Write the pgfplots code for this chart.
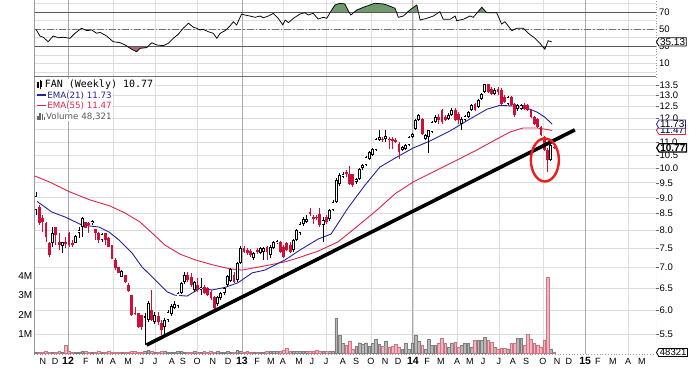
\documentclass[border=0pt]{standalone}
\usepackage{pgfplots}
\pgfplotsset{compat=1.18}
\usepackage{pgfplotstable}
\usetikzlibrary{shapes.symbols}
\usepackage{fontspec}
\setmainfont{Liberation Sans}
\newfontfamily\dejavu{DejaVu Sans}
\newfontfamily\dejamono{DejaVu Sans Mono}

\definecolor{candlered}{HTML}{CC1038}
\definecolor{emablue}{HTML}{22229E}
\definecolor{emared}{HTML}{DC2448}
\definecolor{rsigreen}{HTML}{6E9A6E}
\definecolor{rsired}{HTML}{A86A6A}
\definecolor{volgray}{HTML}{B8B8B8}
\definecolor{volgrayd}{HTML}{7E7E7E}
\definecolor{volpink}{HTML}{F0B6C0}
\definecolor{volpinkd}{HTML}{D07484}
\definecolor{gridlight}{HTML}{DDDDDD}
\definecolor{gridyear}{HTML}{AAAAAA}
\definecolor{framegray}{HTML}{999999}
\definecolor{circlered}{HTML}{EE1C1C}

% week index, open, high, low, close, volume (thousands)
\pgfplotstableread{
x o h l c v
0 8.61 9.19 8.46 9.06 80
5 7.65 8.10 7.54 7.93 60
8 7.57 7.68 7.38 7.68 70
12 7.65 7.87 7.65 7.85 70
13 7.93 8.10 7.79 8.02 80
14 8.10 8.40 7.82 8.37 120
17 8.22 8.31 8.16 8.28 70
20 7.73 7.93 7.68 7.90 60
26 6.77 6.94 6.77 6.92 50
33 5.84 5.94 5.30 5.88 120
34 5.80 6.21 5.76 6.16 150
36 5.76 5.97 5.71 5.90 80
39 5.65 5.84 5.49 5.80 100
40 5.80 6.01 5.76 5.97 60
41 5.92 6.14 5.88 6.10 80
42 6.05 6.21 6.03 6.14 70
43 6.10 6.41 6.05 6.39 90
44 6.39 6.65 6.36 6.63 110
45 6.65 6.89 6.60 6.82 80
48 6.46 6.68 6.41 6.65 90
50 6.46 6.75 6.34 6.53 70
55 6.14 6.32 6.10 6.30 110
56 6.27 6.41 6.23 6.39 70
57 6.39 6.53 6.34 6.51 80
58 6.58 6.82 6.53 6.80 90
59 6.68 6.99 6.65 6.97 60
61 6.70 7.15 6.65 7.12 140
62 7.12 7.57 7.10 7.51 120
66 7.25 7.41 7.20 7.38 60
68 7.38 7.54 7.35 7.51 70
69 7.41 7.54 7.20 7.51 60
71 7.33 7.59 7.25 7.54 120
72 7.51 7.71 7.48 7.68 110
73 7.65 7.73 7.62 7.71 90
78 7.46 7.76 7.41 7.73 100
79 7.73 8.04 7.71 8.02 110
80 7.93 8.25 7.87 8.19 120
81 8.19 8.40 8.13 8.34 120
82 8.25 8.46 8.22 8.34 110
87 8.16 8.40 7.68 8.31 90
89 8.34 8.64 8.28 8.61 90
90 8.61 8.93 8.58 8.86 120
91 8.86 9.66 8.83 9.59 1810
92 9.45 9.84 9.39 9.77 950
93 9.70 9.88 9.66 9.81 520
97 9.52 9.66 9.45 9.63 350
98 9.63 10.02 9.59 9.98 550
99 10.02 10.16 9.95 10.13 470
100 10.13 10.46 10.09 10.42 550
101 10.35 10.65 10.31 10.61 380
102 10.50 10.76 10.46 10.72 520
103 10.69 11.16 10.65 11.12 730
104 11.08 11.49 11.04 11.20 470
106 11.12 11.49 11.00 11.24 640
111 10.69 10.84 10.65 10.80 210
112 10.72 10.92 10.69 10.88 520
113 10.88 11.24 10.84 11.20 210
114 11.20 11.36 11.16 11.32 550
115 11.53 11.95 11.49 11.91 950
116 11.91 12.16 11.87 12.12 640
118 11.12 11.32 11.08 11.28 210
119 11.20 11.49 10.57 11.49 720
120 11.40 11.87 11.36 11.83 430
121 11.83 12.12 11.79 12.03 440
125 11.95 12.21 11.91 12.12 330
126 12.12 12.43 12.08 12.34 500
129 11.75 12.03 11.49 11.95 420
130 11.91 12.12 11.87 12.08 500
131 12.03 12.30 11.99 12.25 500
132 12.34 12.61 12.30 12.57 330
134 12.48 12.84 12.43 12.79 670
135 12.84 13.12 12.79 13.07 670
136 13.17 13.55 13.12 13.55 840
139 13.07 13.36 13.03 13.26 330
143 12.61 12.98 12.57 12.93 240
146 12.38 12.61 12.30 12.57 800
147 12.38 12.61 12.34 12.57 800
156 10.31 10.96 10.27 10.88 240
}\upc

\pgfplotstableread{
x o h l c v
1 8.71 8.77 8.16 8.22 70
2 8.37 8.46 7.96 8.25 60
3 8.22 8.25 7.68 7.82 90
4 7.65 7.68 7.28 7.33 70
6 8.10 8.10 7.59 7.87 80
7 7.68 7.93 7.46 7.59 100
9 7.68 7.82 7.51 7.62 430
10 7.93 7.96 7.54 7.59 90
11 7.65 7.73 7.54 7.59 60
15 8.25 8.25 8.07 8.07 90
16 8.22 8.25 7.93 8.16 60
18 8.04 8.04 7.73 7.93 80
19 7.93 7.96 7.65 7.73 100
21 7.93 7.93 7.59 7.73 70
22 7.79 7.82 7.54 7.54 90
23 7.59 7.59 7.23 7.23 80
24 7.20 7.25 6.94 6.99 60
25 7.02 7.02 6.87 6.87 70
27 6.82 6.82 6.63 6.65 60
28 6.58 6.63 6.41 6.44 80
29 6.34 6.34 5.88 5.90 110
30 5.94 6.08 5.90 5.92 90
31 5.94 5.94 5.63 5.65 70
32 5.90 5.90 5.59 5.65 80
35 6.01 6.46 5.78 5.80 110
37 5.88 5.97 5.69 5.76 70
38 5.74 5.80 5.49 5.59 90
46 6.82 6.89 6.65 6.70 70
47 6.77 6.87 6.53 6.58 60
49 6.58 6.75 6.41 6.46 80
51 6.53 6.58 6.36 6.39 100
52 6.51 6.53 6.32 6.34 60
53 6.41 6.46 6.23 6.27 90
54 6.30 6.32 6.03 6.05 80
60 6.82 6.89 6.63 6.65 70
63 7.51 7.57 7.38 7.41 80
64 7.46 7.51 7.33 7.38 90
65 7.43 7.48 7.28 7.33 70
67 7.46 7.51 7.35 7.41 60
70 7.54 7.57 7.20 7.41 120
74 7.68 7.71 7.38 7.41 120
75 7.54 7.59 7.25 7.28 150
76 7.65 7.68 7.43 7.46 260
77 7.59 7.68 7.38 7.41 90
83 8.55 8.67 8.43 8.49 120
84 8.40 8.46 8.19 8.34 120
85 8.40 8.46 8.31 8.37 170
86 8.49 8.67 8.10 8.16 120
88 8.40 8.46 8.19 8.25 100
94 9.88 9.95 9.70 9.81 400
95 9.81 10.09 9.42 9.45 640
96 9.81 9.81 9.36 9.42 210
105 11.12 11.20 11.00 11.08 380
107 11.12 11.20 10.72 11.08 340
108 11.12 11.20 10.72 11.04 380
109 11.08 11.16 10.96 11.00 470
110 10.92 11.00 10.35 10.61 340
117 11.95 11.99 11.28 11.32 430
122 12.03 12.16 11.75 11.91 500
123 12.34 12.38 11.75 11.83 780
124 12.03 12.12 11.87 11.91 500
127 12.34 12.43 11.87 11.91 580
128 12.16 12.25 11.75 11.91 330
133 12.61 12.66 12.30 12.34 670
137 13.55 13.55 13.12 13.17 670
138 13.31 13.40 13.03 13.07 580
140 13.31 13.40 13.03 13.17 240
141 13.26 13.36 12.57 12.61 290
142 12.93 13.03 12.66 12.70 290
144 12.93 12.98 12.52 12.57 500
145 12.61 12.66 12.03 12.12 500
148 12.57 12.66 12.34 12.38 420
149 12.57 12.61 12.30 12.34 1010
150 12.34 12.38 11.99 12.03 750
151 12.03 12.08 11.69 11.73 500
152 11.95 11.99 11.57 11.61 420
153 11.61 11.65 11.24 11.28 330
154 11.20 11.24 10.65 10.69 670
155 10.69 10.76 9.88 10.31 3930
157 10.80 10.84 10.72 10.77 48
}\downc

\pgfplotstableread{
x y
-0.3 8.93
4.8 8.55
8.8 8.40
13.9 8.16
19.1 8.10
22.1 7.96
25.2 7.73
29.1 7.38
32.1 7.02
36.1 6.70
39.7 6.42
42.1 6.34
45.8 6.32
49.7 6.50
53.3 6.46
57.3 6.52
61.2 6.63
65.5 6.87
69.4 6.94
75.5 7.20
80.0 7.46
85.5 7.76
89.4 7.90
94.5 8.67
99.7 9.42
104.2 10.05
108.8 10.38
114.2 10.76
119.4 11.04
125.5 11.45
131.5 11.95
136.7 12.38
140.6 12.55
144.5 12.52
148.8 12.43
151.8 12.25
154.2 12.03
156.4 11.73
}\emashort

\pgfplotstableread{
x y
-0.3 9.73
4.2 9.52
10.3 9.19
16.4 8.93
22.4 8.74
27.0 8.52
31.5 8.25
36.1 7.85
39.1 7.59
43.6 7.35
48.2 7.20
53.6 7.07
58.8 6.97
62.4 6.94
66.4 7.00
70.9 7.07
75.5 7.15
79.4 7.25
85.5 7.43
91.5 7.68
96.7 8.07
103.3 8.61
108.8 9.13
114.2 9.52
120.9 9.91
127.6 10.31
133.6 10.69
139.7 11.12
143.6 11.40
147.6 11.57
151.8 11.57
156.4 11.47
}\emalong

\pgfplotstableread{
x y
0 50
1.2 42.1
2.2 40.6
3.7 35.4
5.2 42.1
6.8 40.1
8.3 40.6
10.3 39.4
11.8 45.3
13.8 51.2
15.4 48.4
16.9 49.2
18.4 45.3
19.4 46.5
21.4 42.1
23.4 35.4
25.5 34.2
27.0 31.5
29.0 26.5
30.5 23.6
31.5 27.6
33.5 28.4
35.1 34.2
36.6 31.5
38.6 30.8
40.1 33.5
41.6 39.4
43.1 44.1
44.6 51.2
46.2 57.1
47.7 52.4
48.7 51.2
49.7 49.2
50.7 50.0
52.2 47.2
53.7 45.3
54.8 39.4
55.8 45.3
57.3 48.4
58.8 53.9
59.8 58.9
60.8 55.1
62.3 68.0
63.3 66.8
64.8 65.6
66.4 64.1
67.9 65.6
68.9 63.6
70.4 65.6
71.9 68.8
73.4 62.9
74.8 55.1
75.5 60.9
76.5 57.8
78.0 62.9
80.0 68.0
81.5 69.5
82.5 66.8
84.0 68.8
85.5 62.1
87.1 64.1
88.1 62.9
89.6 72.7
90.6 78.6
92.1 80.6
93.6 79.8
94.6 72.0
95.4 66.8
97.2 72.7
99.7 76.6
102.7 80.6
105.2 79.8
106.3 78.6
108.8 74.7
109.8 64.1
111.3 65.6
113.3 72.7
115.4 78.6
116.4 60.9
118.4 62.9
120.4 65.6
122.4 70.7
123.4 61.8
125.5 61.8
127.0 65.6
127.5 60.1
129.5 61.8
131.5 65.6
132.5 64.1
135.1 75.9
136.6 69.5
139.6 69.5
141.1 56.2
142.1 58.9
144.2 48.4
145.7 51.2
147.7 51.2
149.2 45.3
151.2 39.4
152.7 33.5
154.2 26.5
155.2 36.6
156.3 35.13
}\rsidata

\tikzset{
  valbox/.style={signal, signal to=west, signal pointer angle=120, fill=white,
    draw=#1, line width=0.8pt, inner xsep=1.2pt, inner ysep=0.6pt, anchor=west,
    font=\fontsize{10}{11}\selectfont, text=black},
}
\pgfplotsset{
  panel/.style={
    scale only axis, width=622pt,
    xmin=-0.606, xmax=187.88,
    axis line style={draw=none},
    /pgf/number format/assume math mode=true,
    tick label style={font=\fontsize{9.5}{11}\selectfont},
    scaled y ticks=false, scaled x ticks=false,
  },
  qgrid/.style={
    xtick={9.7,23.3,36.1,48.8,62.4,74.8,87.9,101.5,114.2,127.6,140.3,153.6,166.4,179.4},
    xticklabels={}, xmajorgrids,
    extra x ticks={9.7,62.4,114.2,166.4}, extra x tick labels={},
    extra x tick style={grid=major, major grid style={draw=gridyear, line width=0.8pt}},
    major grid style={draw=gridlight, line width=0.6pt},
    xtick style={draw=none},
  },
  wick/.style={draw=none, mark=none, forget plot,
    error bars/.cd, y dir=plus, y explicit, error mark=none,
    error bar style={line width=0.75pt, draw=#1, solid}},
  body/.style 2 args={draw=none, mark=none, forget plot,
    error bars/.cd, y dir=plus, y explicit, error mark=none,
    error bar style={line width=#1, draw=#2, line cap=butt, solid}},
}

\begin{document}
\begin{tikzpicture}
\useasboundingbox (0pt,0pt) rectangle (700pt,368pt);

% ---------------- RSI panel ----------------
\begin{axis}[panel, qgrid, at={(34pt,290.7pt)}, anchor=south west, height=77.3pt,
  ymin=-6.47, ymax=84.47, clip=false,
  ytick={0,10,20,30,40,50,60,70,80}, yticklabels={,10,,30,,50,,70,},
  ymajorgrids, ytick pos=right, yticklabel pos=right, ytick style={draw=none},
  yticklabel style={anchor=west, inner sep=1pt, xshift=2pt}]
  \addplot[fill=rsigreen, draw=none, forget plot] coordinates {(89.2,70) (89.6,72.7) (90.6,78.6) (92.1,80.6) (93.6,79.8) (94.6,72.0) (94.9,70)};
  \addplot[fill=rsigreen, draw=none, forget plot] coordinates {(96.4,70) (97.2,72.7) (99.7,76.6) (102.7,80.6) (105.2,79.8) (106.3,78.6) (108.8,74.7) (109.2,70)};
  \addplot[fill=rsigreen, draw=none, forget plot] coordinates {(112.5,70) (113.3,72.7) (115.4,78.6) (115.9,70)};
  \addplot[fill=rsigreen, draw=none, forget plot] coordinates {(133.8,70) (135.1,75.9) (136.5,70)};
  \addplot[fill=rsired, draw=none, forget plot] coordinates {(27.6,30) (29.0,26.5) (30.5,23.6) (31.5,27.6) (33.5,28.4) (33.9,30)};
  \addplot[fill=rsired, draw=none, forget plot] coordinates {(153.5,30) (154.2,26.5) (154.5,30)};
  \addplot[color=black!65, line width=0.9pt, forget plot] coordinates {(-0.606,70) (187.88,70)};
  \addplot[color=black!65, line width=0.9pt, forget plot] coordinates {(-0.606,30) (187.88,30)};
  \addplot[color=black!55, line width=0.8pt, dash pattern=on 7pt off 2pt on 1.5pt off 2pt, forget plot] coordinates {(-0.606,50) (187.88,50)};
  \addplot[black, line width=0.75pt, forget plot] table[x=x,y=y] {\rsidata};
  \draw[framegray, line width=0.9pt] (rel axis cs:0,0) -- (rel axis cs:0,1);
  \draw[framegray, line width=0.8pt, dotted] (rel axis cs:1,0) -- (rel axis cs:1,1);
  \node[valbox=black] at (axis cs:187.88,35.13) {35.13};
\end{axis}

% ---------------- main panel: grid and price scale ----------------
\begin{axis}[panel, qgrid, at={(34pt,14pt)}, anchor=south west, height=277pt,
  ymode=log, ymin=5.131, ymax=13.898,
  ytick={5.5,6,6.5,7,7.5,8,8.5,9,9.5,10,10.5,11,11.5,12,12.5,13,13.5},
  yticklabels={5.5,6.0,6.5,7.0,7.5,8.0,8.5,9.0,9.5,10.0,10.5,11.0,11.5,12.0,12.5,13.0,13.5},
  ymajorgrids, yminorgrids=false, minor y tick num=0,
  ytick pos=right, yticklabel pos=right, tick align=outside,
  ytick style={draw=black!60, line width=0.5pt}, major tick length=2.5pt,
  yticklabel style={anchor=west, inner sep=1pt}]
  \draw[framegray, line width=0.9pt] (rel axis cs:0,0) -- (rel axis cs:0,1);
  \draw[black!55, line width=1pt] (rel axis cs:0,1) -- (rel axis cs:1,1);
  \draw[framegray, line width=0.8pt, dotted] (rel axis cs:1,0) -- (rel axis cs:1,1);
  \draw[framegray, line width=0.8pt, dotted] (rel axis cs:0,0) -- (rel axis cs:1,0);
\end{axis}

% ---------------- volume overlay ----------------
\begin{axis}[panel, at={(34pt,14pt)}, anchor=south west, height=277pt,
  ymin=-31, ymax=14225, xtick=\empty, clip=false,
  ytick={1000,2000,3000,4000}, yticklabels={1M,2M,3M,4M},
  ytick pos=left, yticklabel pos=left, ytick style={draw=none},
  yticklabel style={anchor=east, inner sep=1.5pt, font=\fontsize{10}{11}\selectfont}]
  \addplot[ybar, bar width=2.7pt, bar shift=0pt, fill=volgray, draw=volgrayd, line width=0.4pt, forget plot] table[x=x,y=v] {\upc};
  \addplot[ybar, bar width=2.7pt, bar shift=0pt, fill=volpink, draw=volpinkd, line width=0.4pt, forget plot] table[x=x,y=v] {\downc};
  \node[valbox=black, font=\fontsize{9.5}{10}\selectfont] at (axis cs:187.88,48) {48321};
\end{axis}

% ---------------- price: EMAs, candles, trend line ----------------
\begin{axis}[panel, at={(34pt,14pt)}, anchor=south west, height=277pt,
  ymode=log, ymin=5.131, ymax=13.898, clip=false, ytick=\empty,
  xtick={2.1,5.8,9.7,15.1,19.4,23.3,27.9,32.1,36.1,41.2,44.5,48.8,53.6,58.2,62.4,67.0,71.2,74.8,79.7,83.6,87.9,93.0,97.0,101.5,105.8,109.7,114.2,118.5,122.7,127.6,131.5,135.5,140.3,144.5,148.5,153.6,157.9,161.5,166.4,170.3,174.8,179.4,183.6},
  xticklabels={N,D,{\bfseries\fontsize{10.5}{11}\selectfont 12},F,M,A,M,J,J,A,S,O,N,D,{\bfseries\fontsize{10.5}{11}\selectfont 13},F,M,A,M,J,J,A,S,O,N,D,{\bfseries\fontsize{10.5}{11}\selectfont 14},F,M,A,M,J,J,A,S,O,N,D,{\bfseries\fontsize{10.5}{11}\selectfont 15},F,M,A,M},
  xtick style={draw=none},
  xticklabel style={anchor=base, yshift=-10.5pt, inner sep=0pt, font=\fontsize{9}{10}\selectfont}]
  \addplot[emared, line width=0.9pt, forget plot] table[x=x,y=y] {\emalong};
  \addplot[emablue, line width=0.9pt, forget plot] table[x=x,y=y] {\emashort};
  % down candles
  \addplot[wick=candlered] table[x=x, y=l, y error expr={\thisrow{h}-\thisrow{l}}] {\downc};
  \addplot[body={2.8pt}{candlered}] table[x=x, y=c, y error expr={\thisrow{o}-\thisrow{c}}] {\downc};
  % up candles (hollow)
  \addplot[wick=black] table[x=x, y=l, y error expr={\thisrow{h}-\thisrow{l}}] {\upc};
  \addplot[body={2.8pt}{black}] table[x=x, y=o, y error expr={\thisrow{c}-\thisrow{o}}] {\upc};
  \addplot[body={1.3pt}{white}] table[x=x, y expr={\thisrow{o}*1.0035}, y error expr={max(\thisrow{c}*0.9965-\thisrow{o}*1.0035,0)}] {\upc};
  % trend line
  \addplot[black, line width=3.6pt, forget plot] coordinates {(33.5,5.30) (163.3,11.49)};
  \draw[circlered, line width=2.4pt] (axis cs:154.2,10.31) ellipse [x radius=14pt, y radius=21.5pt];
  % last-value boxes
  \node[valbox=emared] at (axis cs:187.88,11.47) {11.47};
  \node[valbox=emablue] at (axis cs:187.88,11.73) {11.73};
  \node[valbox=black, line width=1.2pt, font=\bfseries\fontsize{10}{11}\selectfont] at (axis cs:187.88,10.77) {10.77};
\end{axis}

% ---------------- legend ----------------
\node[anchor=west, fill=white, inner sep=0.6pt] at (36.5pt,283.7pt)
  {\rule[-0.5pt]{1.8pt}{6pt}\hspace{0.4pt}\rule[-1.5pt]{0.6pt}{8.5pt}\hspace{0.4pt}\rule[0.5pt]{1.8pt}{5.5pt}\hspace{2.5pt}{\dejamono\fontsize{10}{11}\selectfont FAN (Weekly) 10.77}};
\node[anchor=west, fill=white, inner sep=0.6pt] at (36.5pt,272.3pt)
  {\textcolor{emablue}{\rule[2.6pt]{8.5pt}{1.6pt}}\hspace{1.5pt}{\dejavu\fontsize{8.7}{10}\selectfont\color{emablue}EMA(21) 11.73}};
\node[anchor=west, fill=white, inner sep=0.6pt] at (36.5pt,262pt)
  {\textcolor{emared}{\rule[2.6pt]{8.5pt}{1.6pt}}\hspace{1.5pt}{\dejavu\fontsize{8.7}{10}\selectfont\color{emared}EMA(55) 11.47}};
\node[anchor=west, fill=white, inner sep=0.6pt] at (36.5pt,251.3pt)
  {\textcolor{black!60}{\rule{1.6pt}{4pt}\hspace{0.5pt}\rule{1.6pt}{7pt}\hspace{0.5pt}\rule{1.6pt}{5.5pt}\hspace{0.5pt}\rule{1.6pt}{3pt}}\hspace{1pt}{\dejavu\fontsize{8.7}{10}\selectfont\color{black!65}Volume 48,321}};
\end{tikzpicture}
\end{document}
